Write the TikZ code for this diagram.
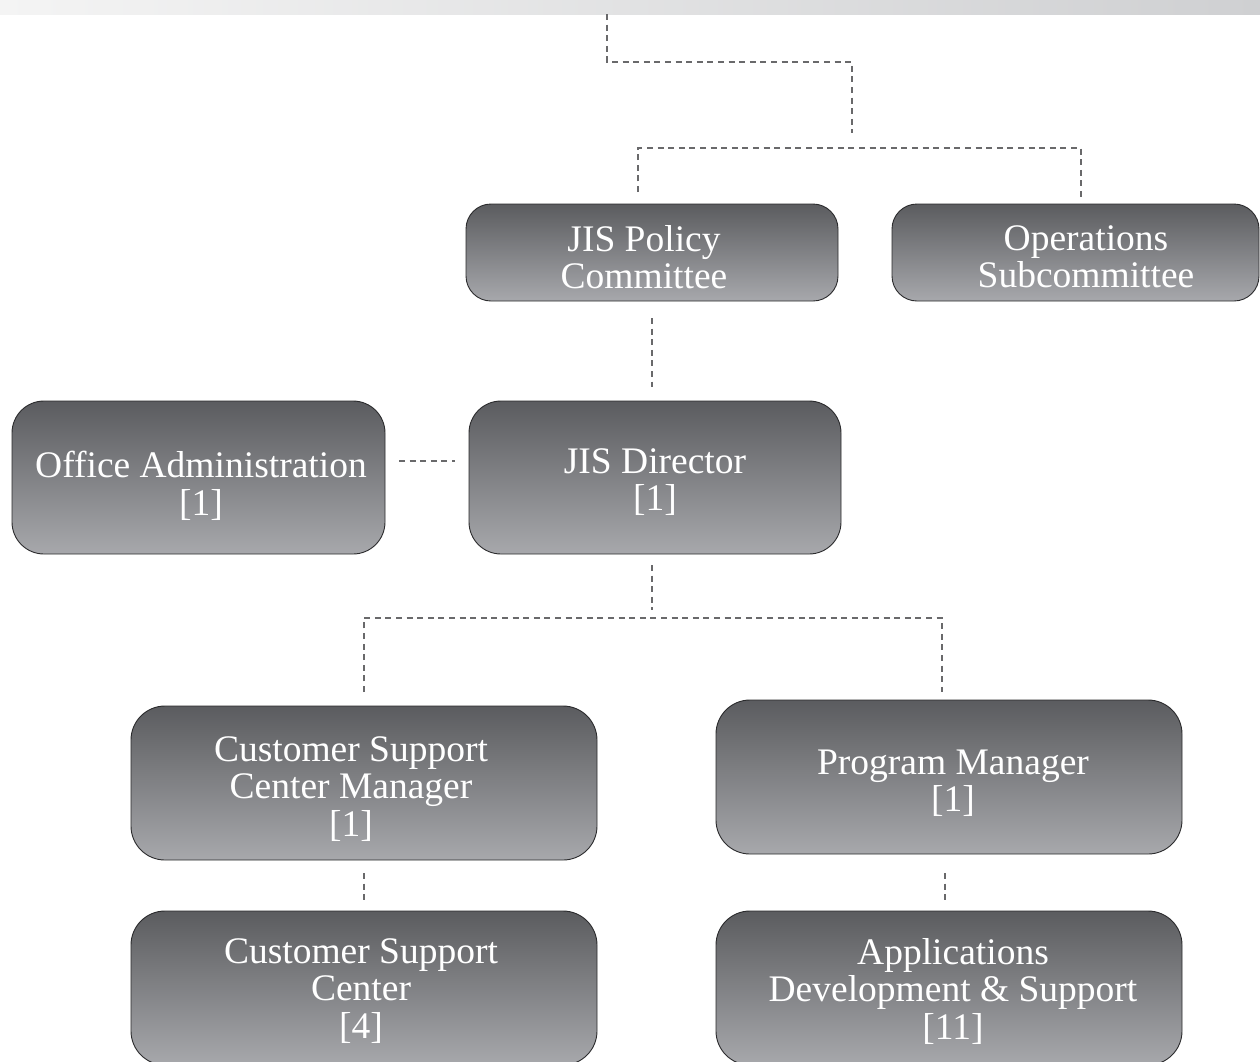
\documentclass[tikz,border=0pt]{standalone}
\usepackage{fontspec}
\setmainfont{Liberation Serif}
\usetikzlibrary{calc}
\definecolor{boxtop}{HTML}{5B5C5F}
\definecolor{boxbot}{HTML}{A7A8AC}
\definecolor{boxline}{HTML}{2B2B2D}
\definecolor{linkgray}{HTML}{69696B}
\definecolor{barleft}{HTML}{F4F4F4}
\definecolor{barright}{HTML}{CFD0D2}
\tikzset{
  orgbox/.style={draw=boxline, line width=0.9pt, rounded corners=#1,
    top color=boxtop, bottom color=boxbot, shading angle=0,
    inner sep=0pt},
  orgbox/.default=30pt,
  lbl/.style={text=white, align=center, inner sep=0pt,
    font=\fontsize{37.5}{37.5}\selectfont},
  link/.style={draw=linkgray, line width=2.6pt, dash pattern=on 6pt off 4.6pt}
}
\begin{document}
\begin{tikzpicture}[x=1pt,y=-1pt]
  \useasboundingbox (0,0) rectangle (1260,1061);
  \clip (0,0) rectangle (1260,1061);
  \fill[white] (0,0) rectangle (1260,1061);
  % header band
  \shade[left color=barleft, right color=barright] (0,0) rectangle (1260,14);

  % boxes
  \node[orgbox=25pt, minimum width=372pt, minimum height=97pt] (pol) at (652,252.5) {};
  \node[orgbox=25pt, minimum width=367pt, minimum height=97pt] (ops) at (1075.5,252.5) {};
  \node[orgbox=32pt, minimum width=372pt, minimum height=153pt] (dir) at (655,477.5) {};
  \node[orgbox=32pt, minimum width=373pt, minimum height=153pt] (off) at (198.5,477.5) {};
  \node[orgbox=34pt, minimum width=466pt, minimum height=154pt] (csm) at (364,783) {};
  \node[orgbox=34pt, minimum width=466pt, minimum height=154pt] (pm) at (949,777) {};
  \node[orgbox=34pt, minimum width=466pt, minimum height=154pt] (csc) at (364,988) {};
  \node[orgbox=34pt, minimum width=466pt, minimum height=154pt] (ads) at (949,988) {};

  % labels
  \node[lbl] (pol-t) at (644,257) {JIS Policy\\Committee};
  \node[lbl] (ops-t) at (1086,257) {Operations\\Subcommittee};
  \node[lbl] (dir-t) at (655,482) {JIS Director\\{[1]}};
  \node[lbl] (off-t) at (201,486) {Office Administration\\{[1]}};
  \node[lbl] (csm-t) at (351,789) {Customer Support\\Center Manager\\{[1]}};
  \node[lbl] (pm-t) at (953,783) {Program Manager\\{[1]}};
  \node[lbl] (csc-t) at (361,991) {Customer Support\\Center\\{[4]}};
  \node[lbl] (ads-t) at (953,991) {Applications\\Development \& Support\\{[11]}};

  % connector end points
  \coordinate (top) at (607,14);
  \coordinate (pol-in) at (638,192);
  \coordinate (ops-in) at (1081,197);
  \coordinate (dir-in) at (652,387);
  \coordinate (pol-out) at (652,318);
  \coordinate (off-in) at (399,461);
  \coordinate (dir-left) at (455,461);
  \coordinate (dir-out) at (652,565);
  \coordinate (csm-in) at (364,692);
  \coordinate (pm-in) at (942,692);
  \coordinate (csm-out) at (364,873);
  \coordinate (csc-in) at (364,900);
  \coordinate (pm-out) at (945,873);
  \coordinate (ads-in) at (945,900);

  % connectors
  \draw[link] (top) |- (852,62) -- (852,133);
  \draw[link] (pol-in) |- (1081,148) -- (ops-in);
  \draw[link] (pol-out) -- (dir-in);
  \draw[link] (off-in) -- (dir-left);
  \draw[link] (dir-out) -- (652,610);
  \draw[link] (csm-in) |- (942,618) -- (pm-in);
  \draw[link] (csm-out) -- (csc-in);
  \draw[link] (pm-out) -- (ads-in);
\end{tikzpicture}
\end{document}
